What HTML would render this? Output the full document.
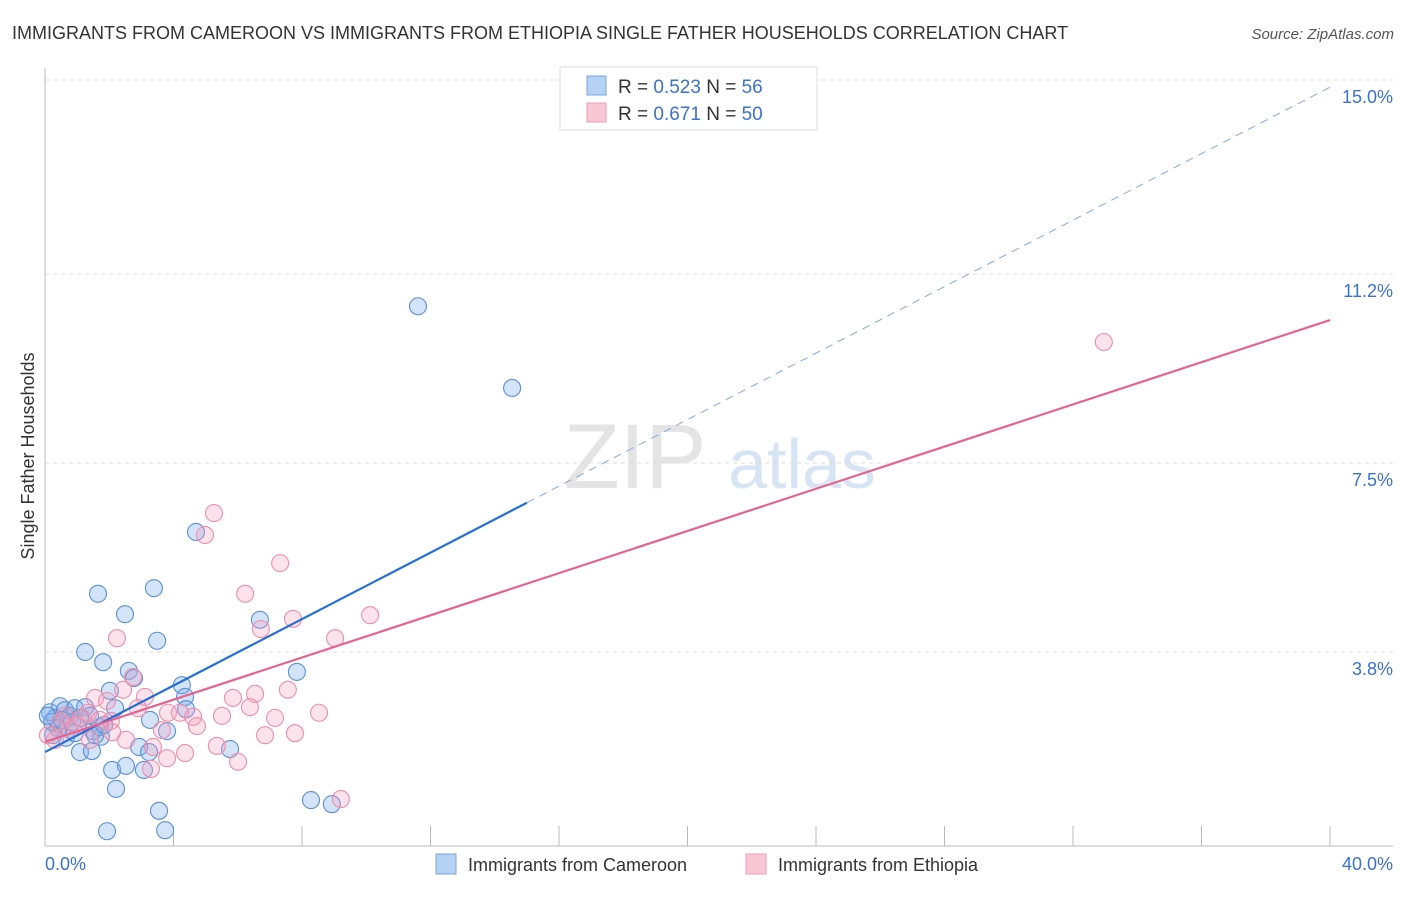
<!DOCTYPE html>
<html><head><meta charset="utf-8"><style>
body{margin:0;background:#fff;font-family:"Liberation Sans",sans-serif}
svg text{font-family:"Liberation Sans",sans-serif}
</style></head><body>
<svg id="chart" width="1406" height="892" xmlns="http://www.w3.org/2000/svg">
<text x="12" y="39" font-size="18" fill="#333">IMMIGRANTS FROM CAMEROON VS IMMIGRANTS FROM ETHIOPIA SINGLE FATHER HOUSEHOLDS CORRELATION CHART</text>
<text x="1394" y="39" font-size="15" fill="#555" text-anchor="end" font-style="italic">Source: ZipAtlas.com</text>
<g>
<text x="635" y="488" font-size="92" fill="#e4e4e4" text-anchor="middle" font-family="Liberation Serif">ZIP</text>
<text x="802" y="488" font-size="70" fill="#d6e4f4" text-anchor="middle">atlas</text>
</g>
<g id="grid"></g>
<g id="axes"></g>
<g id="pts"></g>
<g id="trends"></g>
<text transform="translate(34,456) rotate(-90)" font-size="18" fill="#333" text-anchor="middle">Single Father Households</text>
<g>
<rect x="560" y="67" width="257" height="63" fill="#fff" stroke="#ddd"/>
<rect x="587" y="76" width="19" height="19" fill="#b5d1f3" stroke="#7aa6e0"/>
<rect x="587" y="103" width="19" height="19" fill="#f9c6d6" stroke="#eba0b8"/>
<text x="618" y="93" font-size="19" fill="#333">R = <tspan fill="#3a72cf">0.523</tspan>   N = <tspan fill="#3a72cf">56</tspan></text>
<text x="618" y="120" font-size="19" fill="#333">R =  <tspan fill="#3a72cf">0.671</tspan>   N = <tspan fill="#3a72cf">50</tspan></text>
</g>
<g>
<rect x="436" y="854" width="20" height="20" fill="#b5d1f3" stroke="#7aa6e0"/>
<text x="468" y="871" font-size="18" fill="#333">Immigrants from Cameroon</text>
<rect x="746" y="854" width="20" height="20" fill="#f9c6d6" stroke="#eba0b8"/>
<text x="778" y="871" font-size="18" fill="#333">Immigrants from Ethiopia</text>
</g>
</svg>
<script>
const yTicks=[15.0,11.2,7.5,3.8];
const yTickLabels=["15.0%","11.2%","7.5%","3.8%"];
const xTickVals=[0,4,8,12,16,20,24,28,32,36,40];
const xEndLabels=["0.0%","40.0%"];
const cameroonX=[11.61,14.54,4.70,3.39,1.65,2.49,3.49,6.69,1.25,1.81,2.61,2.77,7.84,2.02,4.26,4.36,4.39,3.27,3.80,2.93,3.24,5.76,1.74,1.49,1.09,1.46,2.09,2.52,3.08,2.21,3.55,8.28,8.93,1.93,3.74,0.16,0.31,0.47,0.62,0.78,0.93,1.25,1.40,0.40,0.65,0.93,0.22,0.09,0.53,0.84,1.71,1.56,1.84,2.18,0.25,1.09];
const cameroonY=[10.57,8.97,6.15,5.05,4.94,4.54,4.02,4.43,3.80,3.60,3.43,3.29,3.41,3.04,3.15,2.92,2.68,2.47,2.25,1.94,1.84,1.90,2.14,2.25,1.84,1.86,1.49,1.57,1.49,1.12,0.69,0.90,0.82,0.29,0.31,2.62,2.51,2.74,2.66,2.55,2.70,2.72,2.55,2.31,2.12,2.21,2.43,2.55,2.47,2.43,2.33,2.17,2.37,2.70,2.17,2.51];
const ethiopiaX=[32.96,5.26,4.98,7.32,6.23,7.72,6.72,9.03,10.12,2.24,2.74,2.43,1.56,1.93,3.11,2.89,2.05,3.83,4.20,4.61,5.85,6.54,7.56,6.38,5.51,7.16,8.53,4.73,3.64,2.52,3.36,4.36,3.80,5.35,6.01,6.85,7.78,3.30,9.21,0.47,0.78,0.09,0.31,1.34,1.15,0.93,1.71,0.62,2.09,1.40];
const ethiopiaY=[9.87,6.52,6.09,5.54,4.94,4.45,4.25,4.07,4.52,4.07,3.31,3.06,2.90,2.84,2.92,2.70,2.45,2.61,2.61,2.53,2.90,2.98,3.06,2.72,2.55,2.51,2.61,2.35,2.27,2.08,1.94,1.82,1.72,1.96,1.65,2.17,2.21,1.51,0.92,2.43,2.27,2.17,2.08,2.61,2.51,2.37,2.47,2.55,2.23,2.08];
const trendCameroon=[1.84,14.86]; // y at x=0 and x=40
const trendCameroonSolidEnd=15.0;
const trendEthiopia=[2.04,10.30];

const NS="http://www.w3.org/2000/svg";
const X0=45,X1=1330,YTOP=80;
const xs=v=>X0+(v/40)*(X1-X0);
const ys=v=>YTOP+(15-v)*51.07;
function mk(tag,attrs,parent){const e=document.createElementNS(NS,tag);for(const k in attrs)e.setAttribute(k,attrs[k]);parent.appendChild(e);return e;}
const grid=document.getElementById('grid'),axes=document.getElementById('axes'),pts=document.getElementById('pts'),tr=document.getElementById('trends');
yTicks.forEach((t,i)=>{
 const l=mk('line',{x1:X0,x2:1393,y1:ys(t),y2:ys(t),stroke:'#ddd','stroke-dasharray':'4,4'},grid);
 
 
 const tx=mk('text',{x:1393,y:ys(t)+23,'font-size':18,fill:'#3a72cf','text-anchor':'end'},grid);
 tx.textContent=yTickLabels[i];
 
 
});
const ax=mk('line',{x1:X0,x2:X0,y1:68,y2:846,stroke:'#bbb'},axes);


const bx=mk('line',{x1:X0,x2:1393,y1:846,y2:846,stroke:'#bbb'},axes);


xTickVals.forEach(v=>{
 const t=mk('line',{x1:xs(v),x2:xs(v),y1:826,y2:846,stroke:'#bbb'},axes);
 
 
});
const xl0=mk('text',{x:45,y:870,'font-size':18,fill:'#3a72cf'},axes);xl0.textContent=xEndLabels[0];


const xl1=mk('text',{x:1393,y:870,'font-size':18,fill:'#3a72cf','text-anchor':'end'},axes);xl1.textContent=xEndLabels[1];


cameroonX.forEach((v,i)=>{
 const c=mk('circle',{cx:xs(v),cy:ys(cameroonY[i]),r:8.5,fill:'rgba(130,178,235,0.35)',stroke:'#5b8fd8','stroke-width':1.1},pts);
 
 
});
ethiopiaX.forEach((v,i)=>{
 const c=mk('circle',{cx:xs(v),cy:ys(ethiopiaY[i]),r:8.5,fill:'rgba(245,160,190,0.3)',stroke:'#ec8fad','stroke-width':1.1},pts);
 
 
});
const cy=x=>trendCameroon[0]+(trendCameroon[1]-trendCameroon[0])*x/40;
const l1=mk('line',{x1:xs(0),y1:ys(cy(0)),x2:xs(trendCameroonSolidEnd),y2:ys(cy(trendCameroonSolidEnd)),stroke:'#2470d6','stroke-width':2.2},tr);


const l2=mk('line',{x1:xs(trendCameroonSolidEnd),y1:ys(cy(trendCameroonSolidEnd)),x2:xs(40),y2:ys(cy(40)),stroke:'#8aa8d8','stroke-width':1,'stroke-dasharray':'8,6'},tr);


const l3=mk('line',{x1:xs(0),y1:ys(trendEthiopia[0]),x2:xs(40),y2:ys(trendEthiopia[1]),stroke:'#e5638f','stroke-width':2.2},tr);


</script>
</body></html>
